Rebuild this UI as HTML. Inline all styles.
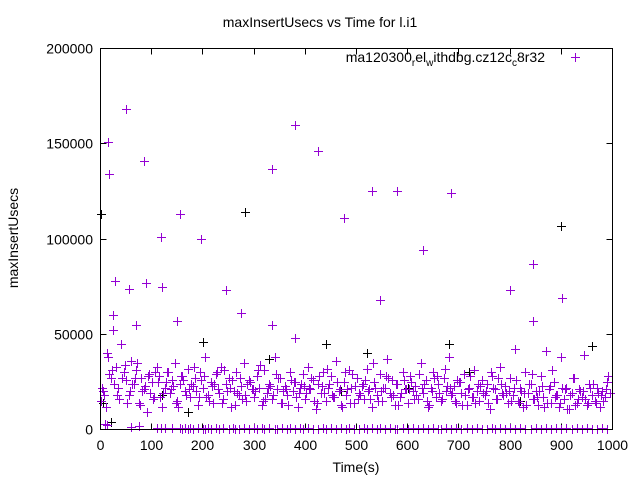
<!DOCTYPE html>
<html><head><meta charset="utf-8"><style>
body{margin:0;background:#fff}
svg{display:block;font-family:"Liberation Sans",sans-serif}
</style></head><body>
<svg id="chart" width="640" height="480" xmlns="http://www.w3.org/2000/svg">
<rect width="640" height="480" fill="#fff"/>
<text x="320" y="27" font-size="14" text-anchor="middle">maxInsertUsecs vs Time for l.i1</text>
<text x="18" y="238" font-size="14" text-anchor="middle" transform="rotate(-90 18 238)">maxInsertUsecs</text>
<text x="356" y="472" font-size="14" text-anchor="middle">Time(s)</text>
<g id="axes"></g>
<g id="marks" shape-rendering="crispEdges"></g>
<g>
<text x="545" y="62" font-size="14" text-anchor="end">ma120300<tspan font-size="10" dy="4">r</tspan><tspan dy="-4">el</tspan><tspan font-size="10" dy="4">w</tspan><tspan dy="-4">ithdbg.cz12c</tspan><tspan font-size="10" dy="4">c</tspan><tspan dy="-4">8r32</tspan></text>
<path d="M571 57.5h9M575.5 53v9" stroke="#9400d3" stroke-width="1" shape-rendering="crispEdges"/>
</g>
<rect x="100.5" y="48.5" width="512" height="381" fill="none" stroke="#000" shape-rendering="crispEdges"/>
</svg>
<script>
const xTicks=[0,100,200,300,400,500,600,700,800,900,1000];
const yTicks=[0,50000,100000,150000,200000];
const bandTimes1Start=0, bandStep1=5;
const band1=[15000,20000,12000,38000,27000,52000,33000,22000,45000,30000,26000,18000,36000,24000,31000,14000,27000,21000,9000,29000,
25000,17000,33000,28000,12000,22000,30000,19000,26000,35000,15000,24000,28000,20000,32000,17000,23000,27000,13000,30000,
22000,38000,18000,25000,14000,29000,21000,33000,16000,24000,27000,12000,20000,30000,18000,23000,35000,15000,26000,21000,
17000,28000,22000,13000,31000,19000,24000,16000,38000,21000,27000,14000,23000,18000,30000,20000,25000,12000,22000,29000,
16000,33000,21000,26000,11000,24000,19000,30000,15000,22000,28000,17000,36000,20000,13000,25000,18000,31000,22000,14000,
27000,19000,23000,16000,32000,21000,12000,25000,18000,29000,15000,22000,37000,19000,26000,13000,24000,17000,30000,21000,
14000,28000,20000,23000,16000,35000,19000,26000,12000,22000,30000,17000,24000,15000,27000,20000,38000,18000,23000,14000,
25000,19000,29000,13000,22000,17000,31000,20000,15000,26000,18000,24000,11000,28000,21000,16000,33000,19000,23000,14000,
27000,18000,42000,15000,22000,12000,30000,19000,24000,16000,20000,13000,28000,17000,41000,21000,14000,25000,18000,12000,
38000,16000,22000,11000,19000,27000,14000,21000,17000,39000,13000,24000,18000,15000,22000,12000,20000,17000,25000,19000];
const bandTimes2Start=2, bandStep2=10;
const band2=[22000,40000,31000,18000,27000,14000,24000,35000,20000,28000,16000,25000,19000,30000,23000,12000,26000,21000,33000,17000,
28000,15000,24000,19000,31000,22000,13000,27000,18000,25000,20000,34000,16000,23000,29000,14000,21000,26000,17000,24000,
19000,27000,14000,23000,32000,18000,25000,12000,21000,29000,16000,24000,20000,35000,15000,22000,27000,18000,13000,26000,
21000,16000,29000,24000,13000,27000,19000,32000,22000,15000,25000,18000,28000,14000,23000,20000,30000,16000,24000,19000,
15000,26000,20000,13000,29000,17000,23000,14000,31000,18000,22000,11000,27000,16000,20000,14000,24000,19000,15000,28000];
const bandTimes3Start=7, bandStep3=10;
const band3=[18000,29000,24000,16000,34000,20000,27000,13000,23000,19000,30000,17000,25000,21000,14000,28000,18000,24000,20000,26000,
17000,23000,30000,14000,20000,26000,19000,16000,24000,21000,31000,15000,22000,18000,27000,20000,13000,25000,19000,23000,
22000,15000,28000,19000,24000,17000,21000,30000,14000,23000,18000,26000,16000,22000,20000,28000,17000,24000,19000,21000,
25000,18000,22000,15000,20000,28000,16000,23000,19000,26000,13000,21000,17000,24000,19000,14000,22000,27000,18000,20000,
22000,14000,19000,24000,16000,20000,12000,23000,17000,14000,21000,18000,13000,20000,16000,22000,14000,18000,21000];
const lowPoints=[[8,3000],[12,2500],[60,1500],[75,2000],[110,1000],[118,800],[125,1000],[140,900],[155,600],[160,500],[165,700],[170,400],[175,600],[180,500],[190,700],[200,500],[205,400],[210,600],[215,500],[225,700],[232,400],[240,600],[250,500],[258,800],[262,500],[270,400],[280,600],[290,500],[300,700],[305,400],[315,600],[320,500],[330,800],[340,500],[345,400],[355,600],[365,500],[370,700],[380,400],[390,600],[395,500],[405,800],[415,500],[425,400],[435,600],[440,500],[450,700],[460,400],[470,600],[480,500],[485,800],[495,500],[505,400],[515,600],[520,500],[530,700],[540,400],[545,600],[555,500],[565,800],[575,500],[580,400],[590,600],[600,500],[610,700],[620,400],[630,600],[640,500],[650,800],[660,500],[665,400],[675,600],[685,500],[695,700],[705,400],[715,600],[725,500],[735,800],[745,500],[755,400],[765,600],[770,500],[780,700],[790,400],[800,600],[810,500],[820,800],[830,500],[840,400],[850,600],[860,500],[870,700],[880,400],[890,600],[900,500],[910,700],[920,400],[930,600],[940,500],[950,800],[960,500],[970,400],[980,600],[990,500]];
const outliers=[[15,151000],[17,134000],[28,78000],[50,168000],[55,74000],[85,141000],[88,77000],[118,101000],[120,75000],[155,113000],[197,100000],[245,73000],[275,61000],[335,137000],[335,55000],[380,160000],[380,48000],[425,146000],[475,111000],[530,125000],[545,68000],[580,125000],[630,94000],[685,124000],[800,73000],[845,87000],[845,57000],[902,69000],[25,60000],[70,55000],[150,57000]];
const blackPoints=[[0,113000],[283,114000],[900,107000],[5,14000],[170,9000],[330,37000],[440,45000],[680,45000],[960,44000],[820,15000],[600,22000],[380,25000],[250,27000],[120,18000],[520,40000],[720,30000],[20,4000],[200,46000],[470,20000]];

const X0=100.5,X1=612.5,Y0=429.5,Y1=48.5;
const xs=v=>X0+(v/1000)*(X1-X0);
const ys=v=>Y0-(v/200000)*(Y0-Y1);
const NS="http://www.w3.org/2000/svg";
const axes=document.getElementById('axes'),marks=document.getElementById('marks');
function mk(tag,attrs,parent){const e=document.createElementNS(NS,tag);for(const k in attrs)e.setAttribute(k,attrs[k]);parent.appendChild(e);return e;}
xTicks.forEach(t=>{
  const x=Math.round(xs(t)-0.5)+0.5;
  const l=mk('path',{d:`M${x} ${Y0}v-6M${x} ${Y1}v6`,stroke:'#000','shape-rendering':'crispEdges'},axes);
  
  
  const tx=mk('text',{x:x,y:450,'font-size':14,'text-anchor':'middle'},axes);
  tx.textContent=t;
  
  
});
yTicks.forEach(t=>{
  const y=Math.round(ys(t)-0.5)+0.5;
  const l=mk('path',{d:`M${X0} ${y}h6M${X1} ${y}h-6`,stroke:'#000','shape-rendering':'crispEdges'},axes);
  
  
  const tx=mk('text',{x:93,y:y+5,'font-size':14,'text-anchor':'end'},axes);
  tx.textContent=t;
  
  
});
function plus(t,v,color,name){
  const x=Math.round(xs(t))+0.5,y=Math.round(ys(v))+0.5;
  const p=mk('path',{d:`M${x-4.5} ${y}h9M${x} ${y-4.5}v9`,stroke:color,'stroke-width':1},marks);
  
  
}
blackPoints.forEach(p=>plus(p[0],p[1],'#000','black-point'));
band1.forEach((v,i)=>plus(bandTimes1Start+i*bandStep1,v,'#9400d3','point'));
band2.forEach((v,i)=>plus(bandTimes2Start+i*bandStep2,v,'#9400d3','point'));
band3.forEach((v,i)=>plus(bandTimes3Start+i*bandStep3,v,'#9400d3','point'));
lowPoints.forEach(p=>plus(p[0],p[1],'#9400d3','low-point'));
outliers.forEach(p=>plus(p[0],p[1],'#9400d3','outlier-point'));
</script>
</body></html>
